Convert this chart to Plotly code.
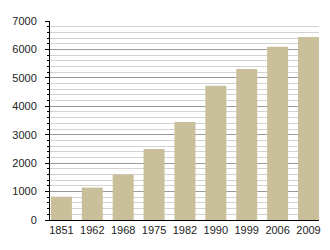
import plotly.graph_objects as go

years = ["1851", "1962", "1968", "1975", "1982", "1990", "1999", "2006", "2009"]
population = [820, 1140, 1600, 2500, 3450, 4720, 5310, 6090, 6440]
y_ticks = [0, 1000, 2000, 3000, 4000, 5000, 6000, 7000]

fig = go.Figure(go.Bar(x=years, y=population, marker=dict(color="#c9c09b", line=dict(width=0))))

fig.update_layout(
    width=330, height=250,
    margin=dict(l=50, r=9, t=21, b=30),
    paper_bgcolor="white", plot_bgcolor="white",
    bargap=0.32,
    showlegend=False,
    font=dict(family="Liberation Sans, Arial", size=11, color="#222"),
)
fig.update_xaxes(
    type="category", range=[-0.37, 8.34],
    showline=True, linecolor="black", linewidth=1,
    ticks="", showgrid=False, tickfont=dict(size=11),
)
fig.update_yaxes(
    range=[0, 7000], tickvals=y_ticks, ticktext=[str(v) for v in y_ticks],
    showline=True, linecolor="black", linewidth=1,
    ticks="outside", ticklen=4, tickcolor="black",
    ticklabelstandoff=6,
    showgrid=True, gridcolor="#9a9a9a", gridwidth=1,
    minor=dict(dtick=200, tick0=0, showgrid=True, gridcolor="#d2d2d2", ticks="outside", ticklen=2, tickcolor="black"),
    zeroline=False, tickfont=dict(size=11),
)

fig.write_html("out.html")
